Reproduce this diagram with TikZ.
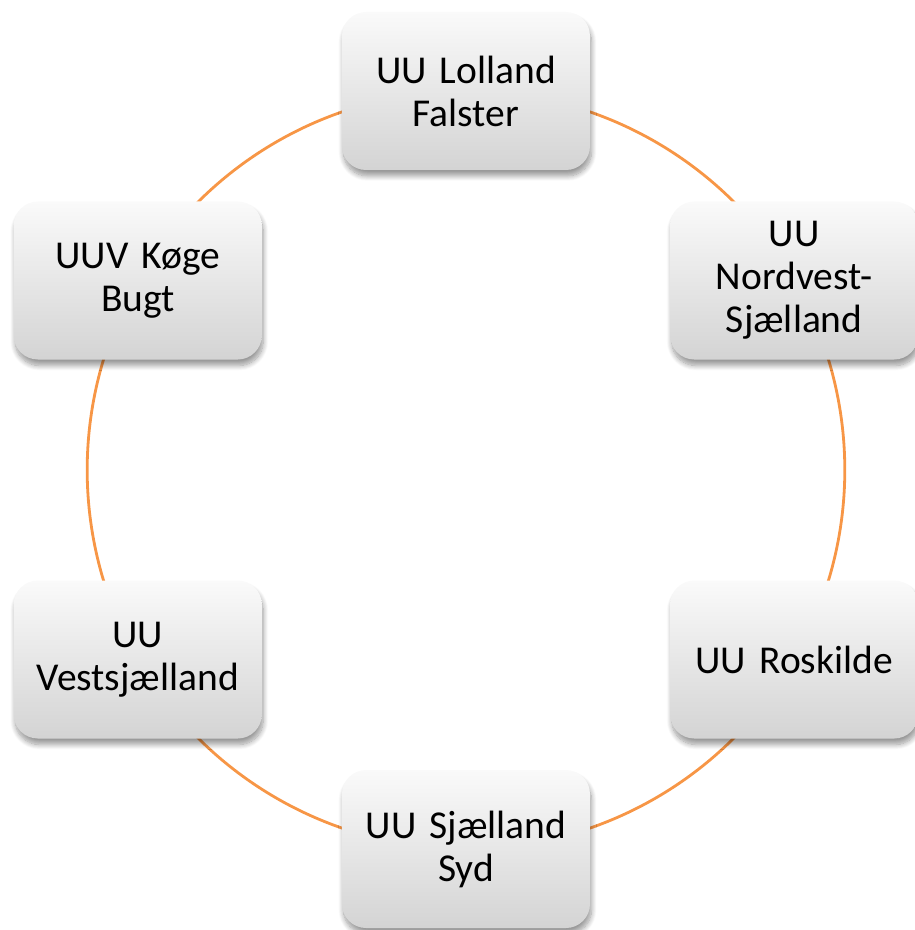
\documentclass[tikz,border=0pt]{standalone}
\usepackage{fontspec}
\setmainfont{Carlito}
\usepackage{xcolor}
\definecolor{orangering}{RGB}{247, 150, 70}
\usepackage{tikz}
\usetikzlibrary{positioning, backgrounds, shadows.blur}

\tikzset{
  uubox/.style={rounded corners=24pt, minimum width=248pt, minimum height=158pt,
    text width=240pt, align=center, top color=white!98!black, bottom color=black!17,
    blur shadow={shadow xshift=1.5pt, shadow yshift=-6pt, shadow blur steps=10,
      shadow blur radius=5pt, shadow opacity=40},
    font=\fontsize{39.5}{43}\selectfont},
  ring/.style={orangering, line width=2.8pt, bend left=30, looseness=0.9127}
}

\begin{document}
\begin{tikzpicture}
            \useasboundingbox (-466pt,-460pt) rectangle (448pt,470pt);

            % Kasser
            \node[uubox] (lolland) at (90:379pt) {UU Lolland\\Falster};
            \node[uubox] (nordvest) at (30:379pt) {UU\\Nordvest-\\Sjælland};
            \node[uubox] (roskilde) at (-30:379pt) {UU Roskilde};
            \node[uubox] (syd) at (-90:379pt) {UU Sjælland\\Syd};
            \node[uubox] (vest) at (-150:379pt) {UU\\Vestsjælland};
            \node[uubox] (koege) at (150:379pt) {UUV Køge\\Bugt};

            % Ring
            \begin{scope}[on background layer]
              \draw[ring] (lolland.center) to (nordvest.center);
              \draw[ring] (nordvest.center) to (roskilde.center);
              \draw[ring] (roskilde.center) to (syd.center);
              \draw[ring] (syd.center) to (vest.center);
              \draw[ring] (vest.center) to (koege.center);
              \draw[ring] (koege.center) to (lolland.center);
            \end{scope}
        \end{tikzpicture}
\end{document}
